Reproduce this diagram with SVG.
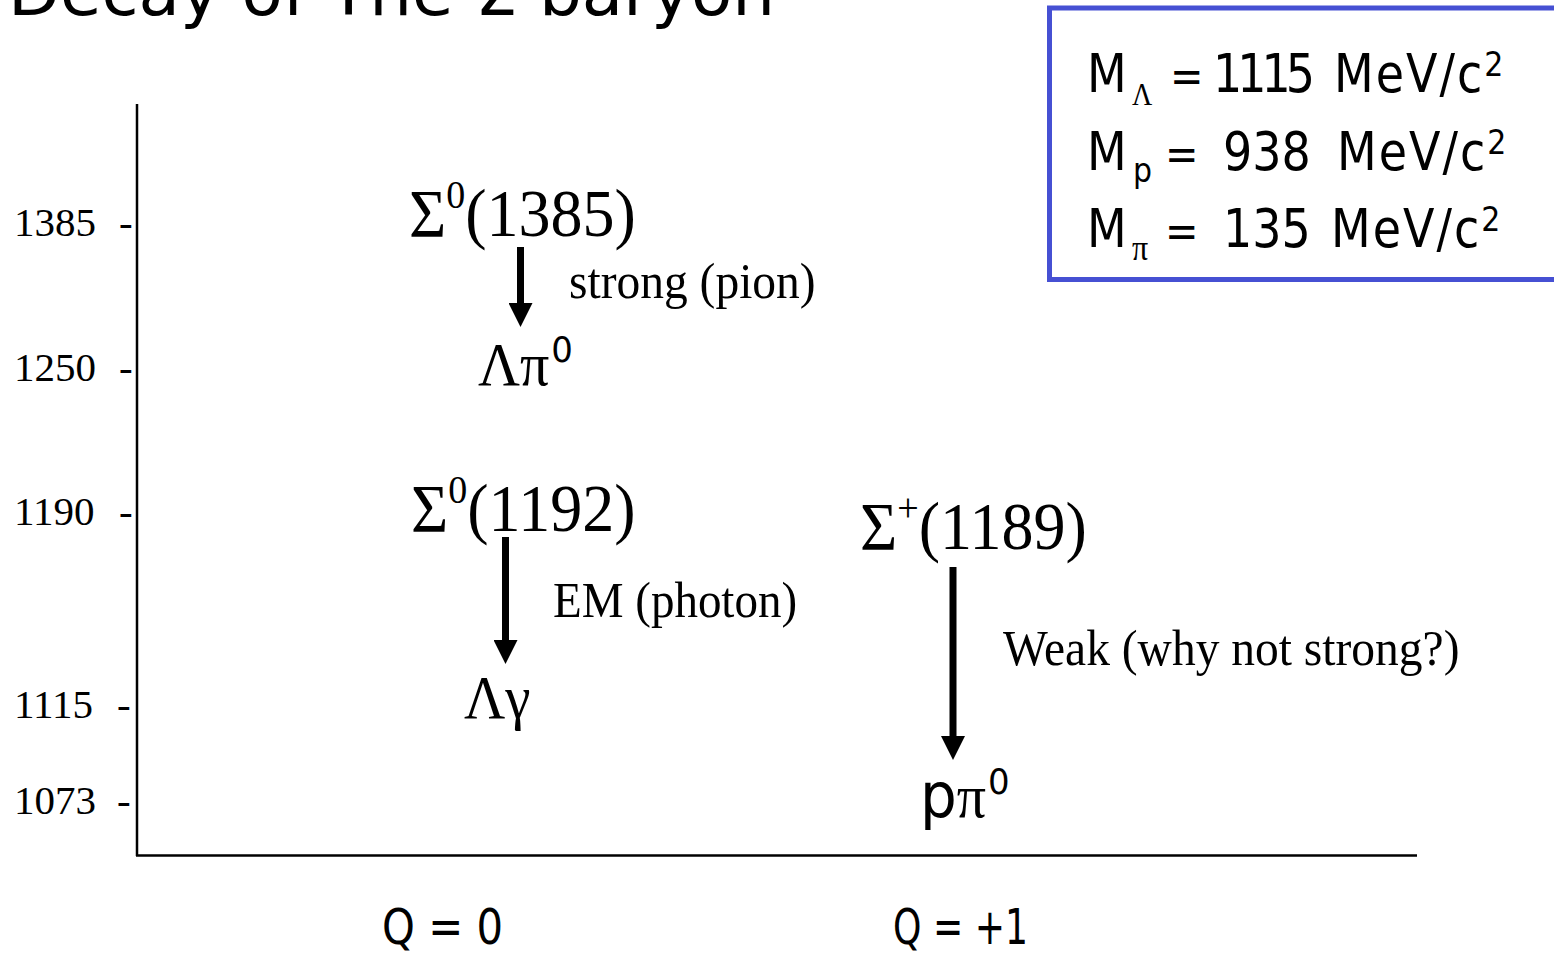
<svg xmlns="http://www.w3.org/2000/svg" width="1554" height="953" viewBox="0 0 1554 953">
<style>
.serif{font-family:"Liberation Serif","Times New Roman",serif;fill:#000}
.comic{font-family:"DejaVu Sans","Noto Sans",sans-serif;fill:#000}
.axis{stroke:#000;stroke-width:2.5;fill:none}
.arrow{stroke:#000;stroke-width:7;fill:none;marker-end:url(#head)}
.eq{font-size:40px}
</style>
<defs>
<marker id="head" markerUnits="userSpaceOnUse" viewBox="0 0 24 24" refX="0" refY="12" markerWidth="24" markerHeight="24" orient="auto">
<path d="M0,0 L24,12 L0,24 z" fill="#000"/>
</marker>
</defs>
<rect width="1554" height="953" fill="#fff"/>

<g id="title">
<text class="comic" transform="translate(8,15) scale(1,1.15)" font-size="58" textLength="767" lengthAdjust="spacingAndGlyphs">Decay of The Σ baryon</text>
</g>

<g id="mass-box">
<rect x="1049.5" y="8" width="530" height="271.5" fill="none" stroke="#4650D3" stroke-width="5"/>
<text class="comic" transform="translate(1087,92) scale(1,1.15)" font-size="46"><tspan x="0" y="0">M</tspan><tspan class="serif" x="45" y="11" font-size="28">Λ</tspan><tspan class="eq" x="83" y="0">=</tspan><tspan x="126" y="0" letter-spacing="-5">1115</tspan><tspan x="247" y="0" letter-spacing="2">MeV/c</tspan><tspan y="-14" font-size="30">2</tspan></text>
<text class="comic" transform="translate(1087,170) scale(1,1.15)" font-size="46"><tspan x="0" y="0">M</tspan><tspan x="46" y="10" font-size="30">p</tspan><tspan class="eq" x="78" y="0">=</tspan><tspan x="136" y="0">938</tspan><tspan x="250" y="0" letter-spacing="2">MeV/c</tspan><tspan y="-14" font-size="30">2</tspan></text>
<text class="comic" transform="translate(1087,247) scale(1,1.15)" font-size="46"><tspan x="0" y="0">M</tspan><tspan class="serif" x="45" y="11" font-size="32">π</tspan><tspan class="eq" x="78" y="0">=</tspan><tspan x="136" y="0">135</tspan><tspan x="244" y="0" letter-spacing="2">MeV/c</tspan><tspan y="-14" font-size="30">2</tspan></text>
</g>

<g id="axes">
<line class="axis" x1="137" y1="104" x2="137" y2="856"/>
<line class="axis" x1="136" y1="855.5" x2="1417" y2="855.5"/>
<text class="serif" font-size="41"><tspan x="14" y="236">1385</tspan><tspan x="119" y="236">-</tspan></text>
<text class="serif" font-size="41"><tspan x="14" y="381">1250</tspan><tspan x="119" y="381">-</tspan></text>
<text class="serif" font-size="41"><tspan x="14" y="525">1190</tspan><tspan x="119" y="525">-</tspan></text>
<text class="serif" font-size="41"><tspan x="14" y="718">1115</tspan><tspan x="117" y="718">-</tspan></text>
<text class="serif" font-size="41"><tspan x="14" y="814">1073</tspan><tspan x="117" y="814">-</tspan></text>
<text class="comic" transform="translate(382,944) scale(1,1.2)" font-size="42" textLength="121" lengthAdjust="spacingAndGlyphs">Q = 0</text>
<text class="comic" transform="translate(893,944) scale(1,1.2)" font-size="42" textLength="135" lengthAdjust="spacingAndGlyphs">Q = +1</text>
</g>

<g id="sigma0-1385">
<text class="serif" transform="translate(409,236) scale(1,1.06)" font-size="64"><tspan>Σ</tspan><tspan font-size="38" dy="-26">0</tspan><tspan dy="26">(1385)</tspan></text>
</g>
<g id="lambda-pi0">
<text class="serif" transform="translate(478,385) scale(1,1.06)" font-size="58"><tspan>Λπ</tspan><tspan class="comic" font-size="34" dx="2" dy="-22">0</tspan></text>
</g>
<g id="sigma0-1192">
<text class="serif" transform="translate(411,531) scale(1,1.06)" font-size="64"><tspan>Σ</tspan><tspan font-size="38" dy="-26">0</tspan><tspan dy="26">(1192)</tspan></text>
</g>
<g id="lambda-gamma">
<text class="serif" transform="translate(464,718) scale(1,1.06)" font-size="57">Λγ</text>
</g>
<g id="sigmaplus-1189">
<text class="serif" transform="translate(860,549) scale(1,1.06)" font-size="64"><tspan>Σ</tspan><tspan font-size="38" dy="-26">+</tspan><tspan dy="26">(1189)</tspan></text>
</g>
<g id="p-pi0">
<text class="comic" transform="translate(920,817) scale(1,1.06)" font-size="58"><tspan>p</tspan><tspan class="serif">π</tspan><tspan font-size="34" dx="2" dy="-22">0</tspan></text>
</g>

<g id="connectors">
<line class="arrow" x1="520.5" y1="247" x2="520.5" y2="303"/>
<line class="arrow" x1="505.5" y1="537" x2="505.5" y2="640"/>
<line class="arrow" x1="953" y1="567" x2="953" y2="736"/>
<text class="serif" transform="translate(569,298) scale(1,1.06)" font-size="47.5">strong (pion)</text>
<text class="serif" transform="translate(553,617) scale(1,1.06)" font-size="47">EM (photon)</text>
<text class="serif" transform="translate(1003,665) scale(1,1.06)" font-size="47.5">Weak (why not strong?)</text>
</g>
</svg>
